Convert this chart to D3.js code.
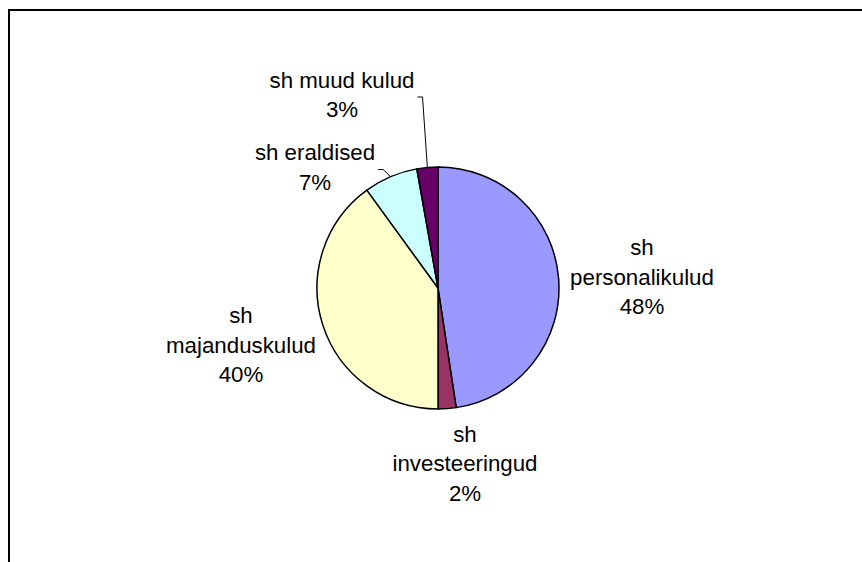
<!DOCTYPE html>
<html>
<head>
<meta charset="utf-8">
<script src="https://cdn.jsdelivr.net/npm/d3@7"></script>
<style>
  html, body { margin: 0; padding: 0; background: #fff; overflow: hidden; }
  svg { display: block; font-family: "Liberation Sans", Arial, sans-serif; }
</style>
</head>
<body>
<div id="chart"></div>
<script>
// slices, clockwise from 12 o'clock
const categories = ["sh personalikulud", "sh investeeringud", "sh majanduskulud", "sh eraldised", "sh muud kulud"];
const values = [47.6, 2.4, 40.0, 7.2, 2.8];
const percentLabels = ["48%", "2%", "40%", "7%", "3%"];
const colors = ["#9999ff", "#993366", "#ffffcc", "#ccffff", "#660066"];

// how each label is split into lines
const labelLines = [
  ["sh", "personalikulud"],
  ["sh", "investeeringud"],
  ["sh", "majanduskulud"],
  ["sh eraldised"],
  ["sh muud kulud"]
];

// label placement: block center x, first baseline y, leader line or not
const labelLayout = [
  {x: 642, y: 255, leader: false},
  {x: 465, y: 441.5, leader: false},
  {x: 241, y: 323, leader: false},
  {x: 315, y: 160, leader: true},
  {x: 342, y: 87.5, leader: true}
];

const width = 862;
const height = 562;
const cx = 438;
const cy = 288;
const radius = 121;
const lineStep = 29.5;

const svg = d3.select("#chart").append("svg")
  .attr("width", width)
  .attr("height", height)
  .attr("viewBox", [0, 0, width, height]);

// chart area frame (runs off right and bottom)
svg.append("rect")
  .attr("x", 9)
  .attr("y", 10)
  .attr("width", 900)
  .attr("height", 600)
  .attr("fill", "none")
  .attr("stroke", "#000")
  .attr("stroke-width", 2);

const pie = d3.pie().sort(null).value(d => d);
const arcs = pie(values);
const arc = d3.arc().innerRadius(0).outerRadius(radius);

const g = svg.append("g").attr("transform", `translate(${cx},${cy})`);

g.selectAll("path")
  .data(arcs)
  .join("path")
  .attr("d", arc)
  .attr("fill", (d, i) => colors[i])
  .attr("stroke", "#000")
  .attr("stroke-width", 1.5)
  .attr("stroke-linejoin", "round");

// labels
const labels = svg.append("g")
  .attr("font-size", 22.3)
  .attr("fill", "#000")
  .attr("text-anchor", "middle");

arcs.forEach((a, i) => {
  const pos = labelLayout[i];
  const lines = labelLines[i].concat([percentLabels[i]]);
  const t = labels.append("text");
  lines.forEach((s, j) => {
    t.append("tspan")
      .attr("x", pos.x)
      .attr("y", pos.y + j * lineStep)
      .text(s);
  });

  if (pos.leader) {
    const first = t.select("tspan").node();
    const right = pos.x + first.getComputedTextLength() / 2;
    const ang = (a.startAngle + a.endAngle) / 2;
    const px = cx + radius * Math.sin(ang);
    const py = cy - radius * Math.cos(ang);
    const ly = pos.y + 9.5;
    svg.append("path")
      .attr("d", d3.line()([[right + 3, ly], [right + 8, ly], [px, py]]))
      .attr("fill", "none")
      .attr("stroke", "#000")
      .attr("stroke-width", 1);
  }
});
</script>
</body>
</html>
